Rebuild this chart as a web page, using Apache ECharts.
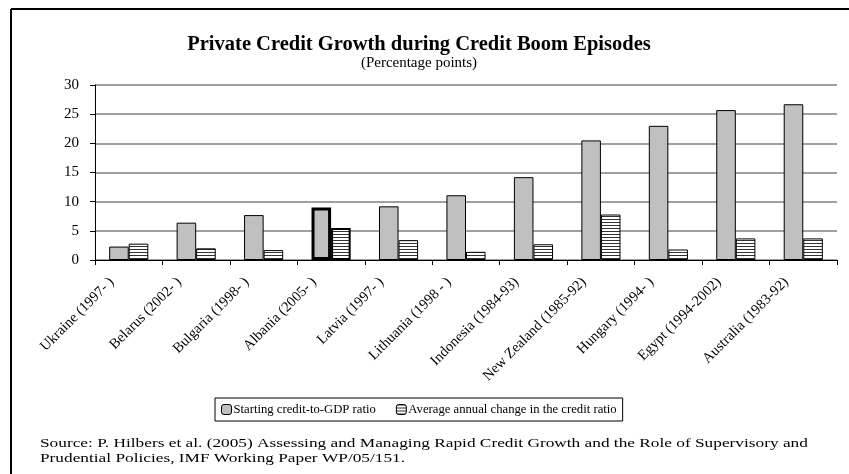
<!DOCTYPE html>
<html>
<head>
<meta charset="utf-8">
<script src="https://cdn.jsdelivr.net/npm/echarts@6/dist/echarts.min.js"></script>
<style>
html,body{margin:0;padding:0;background:#fff;}
#chart{width:849px;height:474px;}
</style>
</head>
<body>
<div id="chart"></div>
<script>
const categories = ['Ukraine (1997- )','Belarus (2002- )','Bulgaria (1998- )','Albania (2005- )','Latvia (1997- )','Lithuania (1998 - )','Indonesia (1984-93)','New Zealand (1985-92)','Hungary (1994- )','Egypt (1994-2002)','Australia (1983-92)'];
const startingRatio = [2.3, 6.4, 7.7, 9.0, 9.2, 11.1, 14.2, 20.5, 23.0, 25.7, 26.7];
const annualChange = [2.8, 2.0, 1.7, 5.5, 3.4, 1.4, 2.7, 7.8, 1.8, 3.7, 3.7];
const seriesNames = ['Starting credit-to-GDP ratio', 'Average annual change in the credit ratio'];
const highlightCategory = 'Albania (2005- )';
const titleText = 'Private Credit Growth during Credit Boom Episodes';
const subtitleText = '(Percentage points)';
const sourceText = 'Source: P. Hilbers et al. (2005) Assessing and Managing Rapid Credit Growth and the Role of Supervisory and\nPrudential Policies, IMF Working Paper WP/05/151.';

const FONT = '"Liberation Serif", "Times New Roman", serif';

function stripePattern() {
  const c = document.createElement('canvas');
  c.width = 4; c.height = 3;
  const ctx = c.getContext('2d');
  ctx.fillStyle = '#ffffff';
  ctx.fillRect(0, 0, 4, 3);
  ctx.fillStyle = '#333333';
  ctx.fillRect(0, 0, 4, 1);
  return c;
}
const stripes = { image: stripePattern(), repeat: 'repeat' };

const chart = echarts.init(document.getElementById('chart'), null, { renderer: 'canvas' });

function mkData(values, hlWidth) {
  return values.map((v, i) => categories[i] === highlightCategory
    ? { value: v, itemStyle: { borderWidth: hlWidth } }
    : v);
}

chart.setOption({
  animation: false,
  backgroundColor: '#ffffff',
  textStyle: { fontFamily: FONT, color: '#000' },
  title: [
    { text: titleText, left: 414, top: 29, textAlign: 'center',
      textStyle: { fontFamily: FONT, fontSize: 20.5, fontWeight: 'bold', color: '#000' } },
    { text: subtitleText, left: 414, top: 51, textAlign: 'center',
      textStyle: { fontFamily: FONT, fontSize: 15, fontWeight: 'normal', color: '#000' } }
  ],
  grid: { left: 95, right: 12, top: 85, bottom: 214, containLabel: false },
  legend: {
    data: seriesNames,
    left: 215, top: 398,
    itemWidth: 10, itemHeight: 10, itemGap: 20,
    borderColor: '#000', borderWidth: 1, padding: [5, 6, 5, 6],
    textStyle: { fontFamily: FONT, fontSize: 12.7, color: '#000', padding: [0, 0, 0, -3] },
    itemStyle: { borderColor: '#000', borderWidth: 1 }
  },
  xAxis: {
    type: 'category',
    data: categories,
    axisLine: { lineStyle: { color: '#000', width: 1 } },
    axisTick: { show: true, length: 5, lineStyle: { color: '#000' } },
    axisLabel: { interval: 0, rotate: 45, fontFamily: FONT, fontSize: 14.5, color: '#000', margin: 3, padding: [0, 24, 28, 0] },
    splitLine: { show: false }
  },
  yAxis: {
    type: 'value',
    min: 0, max: 30, interval: 5,
    axisLine: { show: true, lineStyle: { color: '#000', width: 1 } },
    axisTick: { show: true, length: 5, lineStyle: { color: '#000' } },
    axisLabel: { fontFamily: FONT, fontSize: 15, color: '#000', margin: 16 },
    splitLine: { lineStyle: { color: '#808080', width: 1.5 } }
  },
  series: [
    { name: seriesNames[0], type: 'bar', data: mkData(startingRatio, 3),
      barGap: '0%', barCategoryGap: '42%',
      itemStyle: { color: '#c0c0c0', borderColor: '#000', borderWidth: 1 } },
    { name: seriesNames[1], type: 'bar', data: mkData(annualChange, 2),
      itemStyle: { color: stripes, borderColor: '#000', borderWidth: 1 } }
  ],
  graphic: [
    { type: 'line', shape: { x1: 11, y1: 9, x2: 849, y2: 9 }, style: { stroke: '#000', lineWidth: 2 } },
    { type: 'line', shape: { x1: 11, y1: 9, x2: 11, y2: 474 }, style: { stroke: '#000', lineWidth: 2 } },
    { type: 'text', x: 40, y: 436, scaleX: 1.33, originX: 0,
      style: { text: sourceText, font: '13px ' + FONT, fill: '#000', lineHeight: 15 } }
  ]
});
</script>
</body>
</html>
